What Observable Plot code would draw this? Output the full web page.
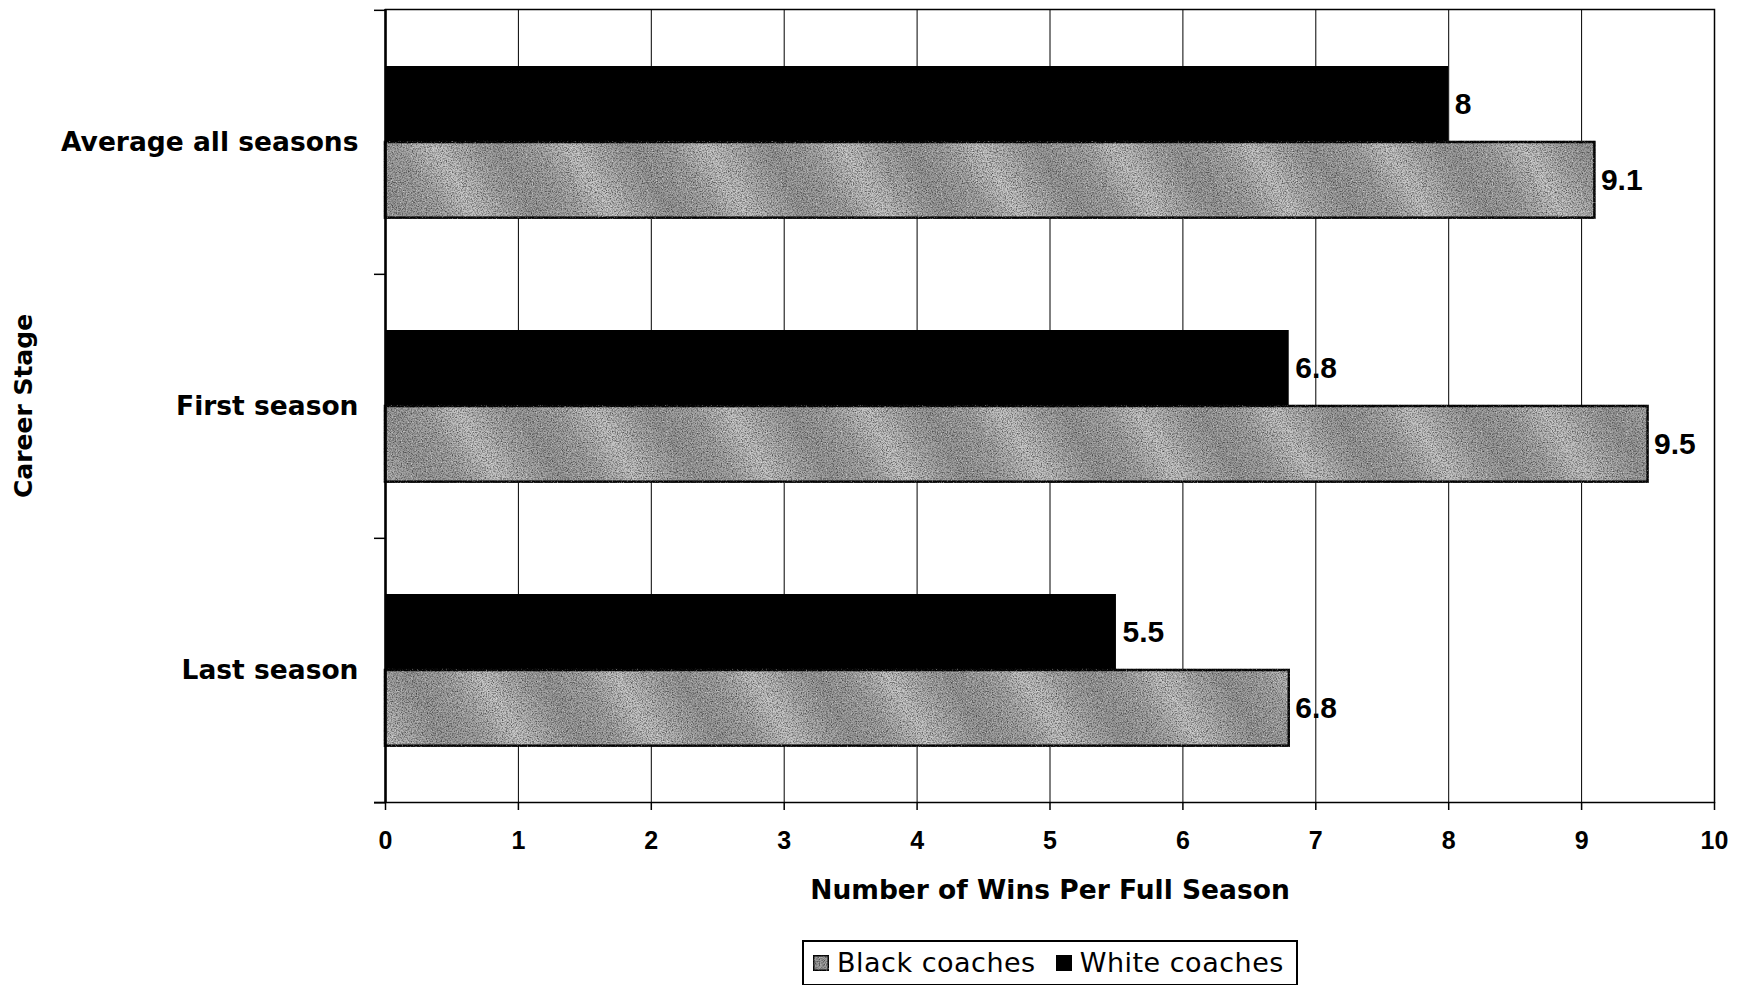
<!DOCTYPE html>
<html>
<head>
<meta charset="utf-8">
<script src="https://cdn.jsdelivr.net/npm/d3@7"></script>
<script src="https://cdn.jsdelivr.net/npm/@observablehq/plot@0.6"></script>
<style>
  html, body { margin: 0; padding: 0; background: #fff; }
  body { width: 1739px; height: 985px; overflow: hidden; position: relative; }
  #chart { position: absolute; left: 0; top: 0; }
  #legend {
    position: absolute; left: 802px; top: 940px; width: 496px; height: 46px;
    border: 2px solid #000; box-sizing: border-box; background: #fff;
    display: flex; align-items: center;
    padding-left: 9px; font: 27px "DejaVu Sans", sans-serif; letter-spacing: 0.5px; color: #000; line-height: 30px;
  }
  #legend .sw { width: 16px; height: 16px; box-sizing: border-box; margin-right: 8px; display: inline-block; flex: none; }
  #legend .lab { margin-right: 20px; white-space: nowrap; }
</style>
</head>
<body>
<div id="chart"></div>
<div id="legend"></div>
<script>
// ---- data ----
const categories = ["Average all seasons", "First season", "Last season"];
const whiteCoaches = [8, 6.8, 5.5];
const blackCoaches = [9.1, 9.5, 6.8];
const seriesNames = ["Black coaches", "White coaches"];
const xTicks = [0, 1, 2, 3, 4, 5, 6, 7, 8, 9, 10];
const xTitle = "Number of Wins Per Full Season";
const yTitle = "Career Stage";

const rows = categories.map((c, i) => ({stage: c, white: whiteCoaches[i], black: blackCoaches[i]}));

// ---- layout ----
const W = 1739, H = 935;
const mL = 385, mR = 25, mT = 9, mB = H - 802;
const bw = (H - mT - mB) / categories.length;
const gap = 56, barH = 76;
const whiteOff = -(bw / 2 - gap - barH / 2);
const blackOff = gap + 1.5 * barH - bw / 2;
const numFont = "'Liberation Sans', Arial, sans-serif";

const chart = Plot.plot({
  width: W, height: H,
  marginLeft: mL, marginRight: mR, marginTop: mT, marginBottom: mB,
  x: {domain: [0, 10]},
  y: {domain: categories, padding: 0},
  style: {fontFamily: "'DejaVu Sans', sans-serif", color: "#000", background: "#fff", overflow: "visible"},
  marks: [
    Plot.gridX(xTicks, {stroke: "#000", strokeOpacity: 1, strokeWidth: 1}),
    Plot.barX(rows, {y: "stage", x: "white", fill: "#000", insetTop: gap, insetBottom: bw - gap - barH}),
    Plot.barX(rows, {y: "stage", x: "black", fill: "url(#bcGrad)", stroke: "#000", strokeWidth: 2.5,
      insetTop: gap + barH, insetBottom: bw - gap - 2 * barH}),
    Plot.text(rows, {y: "stage", x: "white", text: d => String(d.white), dx: 6, dy: whiteOff,
      textAnchor: "start", fontFamily: numFont, fontWeight: "bold", fontSize: 30}),
    Plot.text(rows, {y: "stage", x: "black", text: d => String(d.black), dx: 6, dy: blackOff,
      textAnchor: "start", fontFamily: numFont, fontWeight: "bold", fontSize: 30}),
    Plot.frame({stroke: "#000", strokeWidth: 1.5}),
    Plot.ruleX([0], {stroke: "#000", strokeWidth: 2.5}),
    Plot.axisX(xTicks, {tickSize: 8, tickPadding: 21, fontSize: 25, fontWeight: "bold",
      fontFamily: numFont, tickFormat: d => String(d), label: null, strokeWidth: 1.5}),
    Plot.axisY({tickSize: 0, tickPadding: 27, fontSize: 26.5, fontWeight: "bold", label: null}),
    Plot.ruleY(categories, {y: d => d, x1: 0, x2: 0, insetLeft: -11, dy: -bw / 2, stroke: "#000", strokeWidth: 1.5}),
    Plot.ruleY([categories[categories.length - 1]], {y: d => d, x1: 0, x2: 0, insetLeft: -11, dy: bw / 2, stroke: "#000", strokeWidth: 2}),
    Plot.text([xTitle], {text: d => d, frameAnchor: "bottom", lineAnchor: "middle", textAnchor: "middle", dy: 88, fontSize: 26.5, fontWeight: "bold"}),
    Plot.text([yTitle], {text: d => d, frameAnchor: "left", lineAnchor: "middle", textAnchor: "middle", dx: -(mL - 23), rotate: -90, fontSize: 25, fontWeight: "bold"})
  ]
});

d3.select(chart).insert("defs", ":first-child").html(`
  <linearGradient id="bcGrad" gradientUnits="userSpaceOnUse" x1="0" y1="0" x2="100" y2="-60" spreadMethod="repeat">
    <stop offset="0" stop-color="#9a9a9a"/>
    <stop offset="0.3" stop-color="#a6a6a6"/>
    <stop offset="0.55" stop-color="#c6c6c6"/>
    <stop offset="0.8" stop-color="#aaaaaa"/>
    <stop offset="1" stop-color="#9a9a9a"/>
  </linearGradient>
  <filter id="grain" x="-5%" y="-5%" width="110%" height="110%" color-interpolation-filters="sRGB">
    <feTurbulence type="fractalNoise" baseFrequency="0.8" numOctaves="2" seed="7" result="noise"/>
    <feColorMatrix in="noise" type="matrix"
      values="0 0 0 0 0.15  0 0 0 0 0.15  0 0 0 0 0.15  1.8 0 0 0 -0.75" result="dark"/>
    <feColorMatrix in="noise" type="matrix"
      values="0 0 0 0 1  0 0 0 0 1  0 0 0 0 1  0 -2.0 0 0 0.8" result="light"/>
    <feComposite in="dark" in2="SourceGraphic" operator="in" result="darkIn"/>
    <feComposite in="light" in2="SourceGraphic" operator="in" result="lightIn"/>
    <feMerge>
      <feMergeNode in="SourceGraphic"/>
      <feMergeNode in="darkIn"/>
      <feMergeNode in="lightIn"/>
    </feMerge>
  </filter>
`);

chart.querySelectorAll('g[fill="url(#bcGrad)"]').forEach(g => g.setAttribute("filter", "url(#grain)"));

document.getElementById("chart").appendChild(chart);

// ---- legend ----
const legend = d3.select("#legend");
const legendFill = {"Black coaches": "url(#bcGrad)", "White coaches": "#000"};
seriesNames.forEach(name => {
  const sw = legend.append("span").attr("class", "sw");
  sw.append("svg").attr("width", 16).attr("height", 16).style("display", "block")
    .append("rect").attr("x", 0.75).attr("y", 0.75).attr("width", 14.5).attr("height", 14.5)
    .attr("fill", legendFill[name]).attr("stroke", "#000").attr("stroke-width", 1.5)
    .attr("filter", name === "Black coaches" ? "url(#grain)" : null);
  legend.append("span").attr("class", "lab").text(name);
});
</script>
</body>
</html>
